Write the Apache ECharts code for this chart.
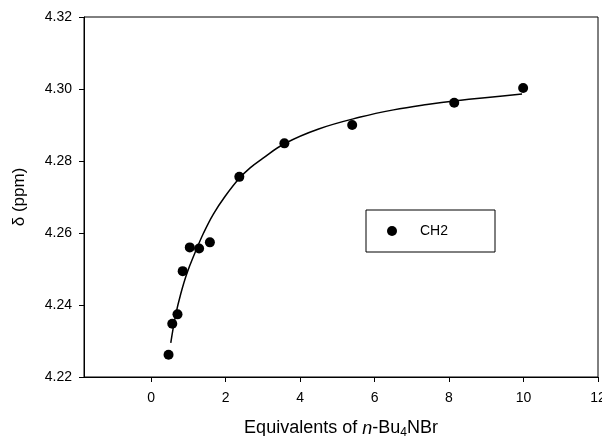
<!DOCTYPE html>
<html>
<head>
<meta charset="utf-8">
<script src="https://cdn.jsdelivr.net/npm/echarts@6/dist/echarts.min.js"></script>
<style>
  html, body { margin: 0; padding: 0; background: #fff; }
  #chart { width: 602px; height: 436px; }
</style>
</head>
<body>
<div id="chart"></div>
<script>
// measured points (CH2)
const eqX = [0.47, 0.57, 0.71, 0.85, 1.04, 1.29, 1.58, 2.37, 3.58, 5.40, 8.14, 9.99]
const shiftY = [4.2262, 4.2348, 4.2374, 4.2494, 4.2560, 4.2557, 4.2574, 4.2756, 4.2849, 4.2900, 4.2962, 4.3003]
// fitted curve
const fitX = [0.53, 0.66, 0.80, 0.96, 1.18, 1.41, 1.67, 1.99, 2.37, 2.66, 2.98, 3.58, 4.5, 5.62, 6.51, 7.41, 8.15, 9.96]
const fitY = [4.2295, 4.2372, 4.2432, 4.2487, 4.2545, 4.2600, 4.2652, 4.2702, 4.2752, 4.2781, 4.2806, 4.2848, 4.2889, 4.2922, 4.2942, 4.2957, 4.2967, 4.2986]
// tick labels
const xTicks = [0, 2, 4, 6, 8, 10, 12]
const yTicks = [4.22, 4.24, 4.26, 4.28, 4.30, 4.32]

const font = 'Liberation Sans, Arial, sans-serif'
const chart = echarts.init(document.getElementById('chart'))

chart.setOption({
  animation: false,
  textStyle: { fontFamily: font, color: '#000' },
  grid: {
    left: 84, top: 17, right: 4, bottom: 59,
    outerBoundsMode: 'none',
    containLabel: false,
    show: true, borderColor: '#000', borderWidth: 1,
  },
  legend: {
    data: ['CH2'],
    left: 366, top: 210,
    padding: [14, 47, 14, 21],
    borderColor: '#000', borderWidth: 1,
    itemWidth: 10, itemHeight: 10,
    icon: 'circle',
    itemStyle: { color: '#000', opacity: 1 },
    textStyle: { fontFamily: font, fontSize: 14, color: '#000', padding: [0, 0, 0, 18] },
  },
  xAxis: {
    type: 'value',
    min: -1.8, max: 12,
    name: '{a|Equivalents of }{i|n}{a|-Bu}{s|4}{a|NBr}',
    nameLocation: 'middle',
    nameGap: 41,
    nameTextStyle: {
      rich: {
        a: { fontFamily: font, fontSize: 18, color: '#000' },
        i: { fontFamily: font, fontSize: 18, fontStyle: 'italic', color: '#000' },
        s: { fontFamily: font, fontSize: 12, color: '#000', padding: [9, 0, 0, 0] },
      },
    },
    axisLine: { onZero: false, lineStyle: { color: '#000', width: 1 } },
    axisTick: { show: true, length: 5, customValues: xTicks, lineStyle: { color: '#000' } },
    axisLabel: { customValues: xTicks, fontSize: 14, color: '#000', margin: 14 },
    splitLine: { show: false },
  },
  yAxis: {
    type: 'value',
    min: 4.22, max: 4.32, interval: 0.02,
    name: 'δ (ppm)',
    nameLocation: 'middle',
    nameGap: 56,
    nameTextStyle: { fontFamily: font, fontSize: 17, color: '#000' },
    axisLine: { show: true, onZero: false, lineStyle: { color: '#000', width: 1 } },
    axisTick: { show: true, length: 5, lineStyle: { color: '#000' } },
    axisLabel: {
      fontSize: 14, color: '#000', margin: 12,
      formatter: v => yTicks.find(t => Math.abs(t - v) < 1e-6)?.toFixed(2) ?? '',
    },
    splitLine: { show: false },
  },
  series: [
    {
      name: 'fit',
      type: 'line',
      data: fitX.map((x, i) => [x, fitY[i]]),
      smooth: 0.4,
      showSymbol: false,
      lineStyle: { color: '#000', width: 1.5 },
      z: 2,
    },
    {
      name: 'CH2',
      type: 'scatter',
      data: eqX.map((x, i) => [x, shiftY[i]]),
      symbol: 'circle',
      symbolSize: 10,
      itemStyle: { color: '#000', opacity: 1 },
      z: 3,
    },
  ],
})
</script>
</body>
</html>
